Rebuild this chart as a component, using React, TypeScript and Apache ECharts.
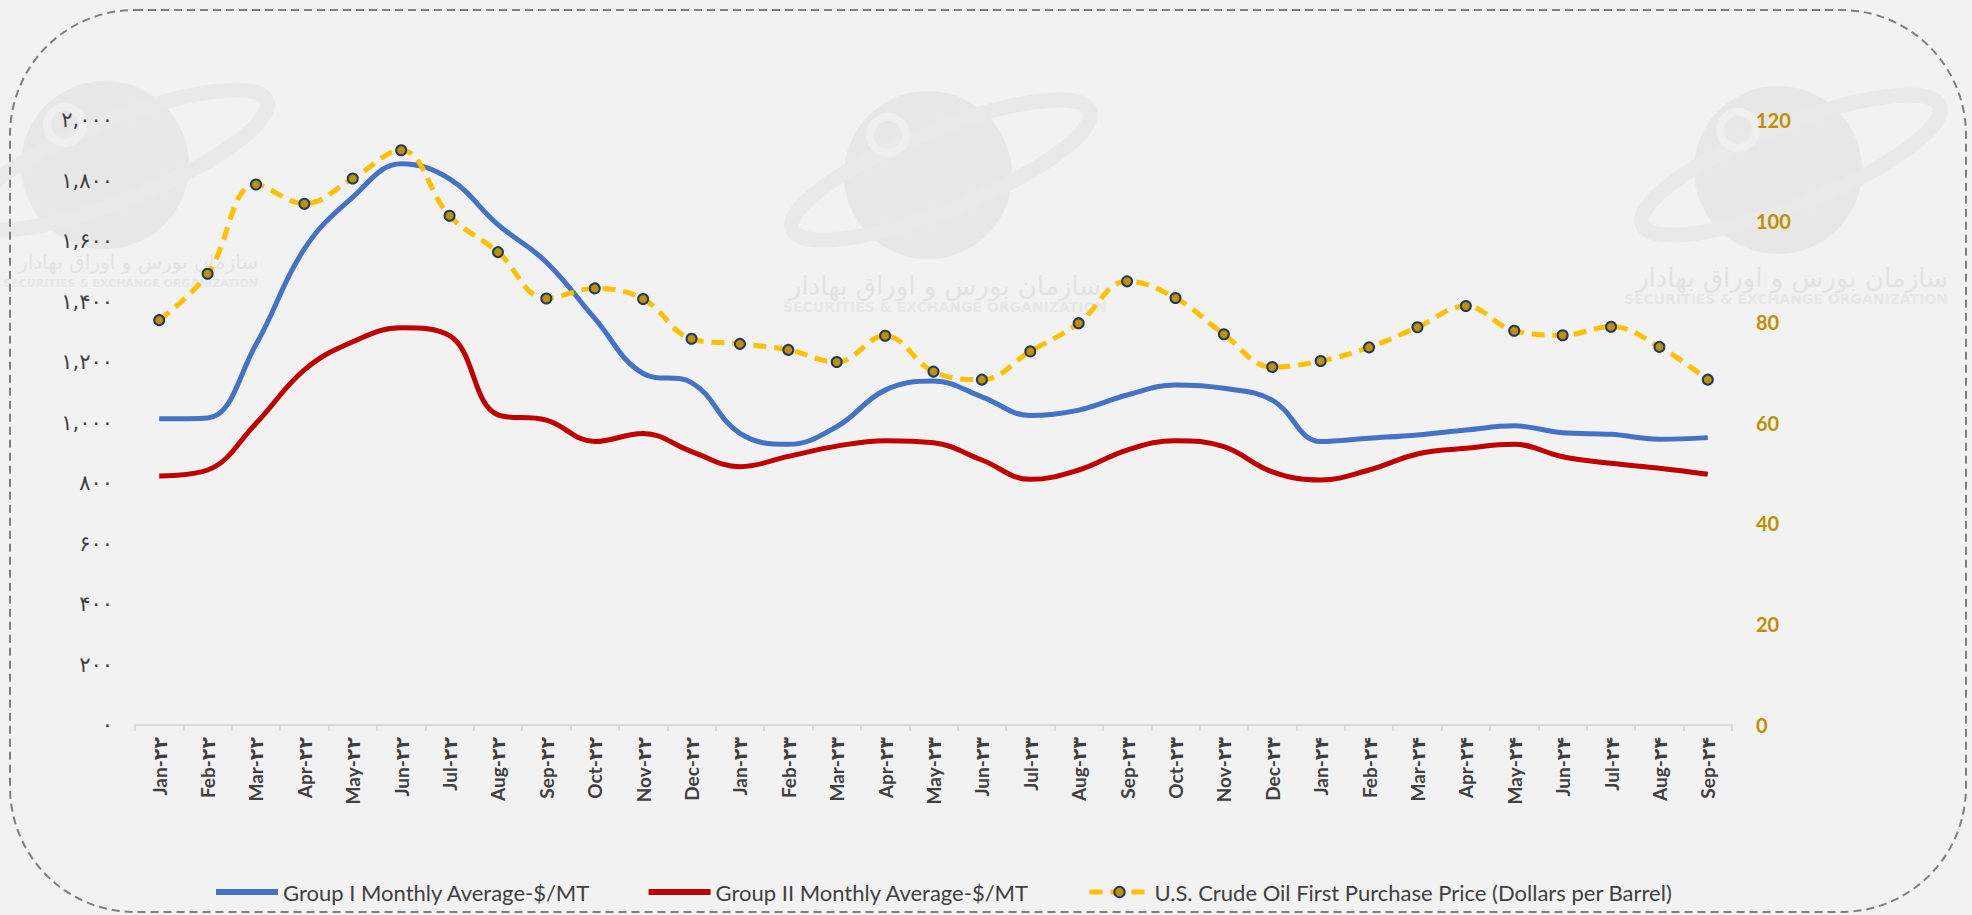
import React, { useEffect, useRef } from "react";
import * as echarts from "echarts";

const categories = [
  "Jan-۲۲", "Feb-۲۲", "Mar-۲۲", "Apr-۲۲", "May-۲۲", "Jun-۲۲", "Jul-۲۲", "Aug-۲۲", "Sep-۲۲", "Oct-۲۲", "Nov-۲۲", "Dec-۲۲",
  "Jan-۲۳", "Feb-۲۳", "Mar-۲۳", "Apr-۲۳", "May-۲۳", "Jun-۲۳", "Jul-۲۳", "Aug-۲۳", "Sep-۲۳", "Oct-۲۳", "Nov-۲۳", "Dec-۲۳",
  "Jan-۲۴", "Feb-۲۴", "Mar-۲۴", "Apr-۲۴", "May-۲۴", "Jun-۲۴", "Jul-۲۴", "Aug-۲۴", "Sep-۲۴",
];

const groupI = [
  1012, 1015, 1258, 1574, 1745, 1855, 1805, 1654, 1530, 1344, 1162, 1132,
  964, 928, 986, 1107, 1137, 1085, 1023, 1041, 1091, 1124, 1113, 1074,
  937, 948, 959, 975, 989, 966, 961, 945, 950,
];

const groupII = [
  823, 843, 997, 1174, 1267, 1313, 1287, 1025, 1008, 937, 964, 904,
  854, 888, 922, 940, 933, 876, 812, 843, 909, 940, 920, 837,
  810, 843, 896, 915, 928, 887, 865, 849, 829,
];

const crudeOil = [
  80.3, 89.5, 107.2, 103.4, 108.4, 114.0, 101.0, 93.8, 84.6, 86.6, 84.5, 76.6,
  75.6, 74.4, 72.0, 77.2, 70.1, 68.5, 74.1, 79.7, 88.0, 84.7, 77.5, 71.0,
  72.2, 74.9, 78.9, 83.1, 78.2, 77.3, 79.0, 75.0, 68.5,
];

const leftTickLabels = ["۰", "۲۰۰", "۴۰۰", "۶۰۰", "۸۰۰", "۱,۰۰۰", "۱,۲۰۰", "۱,۴۰۰", "۱,۶۰۰", "۱,۸۰۰", "۲,۰۰۰"];

const seriesNames = [
  "Group I Monthly Average-$/MT",
  "Group II Monthly Average-$/MT",
  "U.S. Crude Oil First Purchase Price (Dollars per Barrel)",
];

const watermarkFa = "سازمان بورس و اوراق بهادار";
const watermarkEn = "SECURITIES & EXCHANGE ORGANIZATION";

const FONT = "Lato, 'DejaVu Sans', sans-serif";

function logo(cx: number, cy: number, tx: number, ty: number, align: string, faSize: number, enSize: number) {
  return [
    { type: "circle", z: -10, silent: true, shape: { cx, cy, r: 84 }, style: { fill: "#e7e7e7" } },
    {
      type: "ellipse", z: -9, silent: true, x: cx + 13, y: cy - 5, rotation: 0.38,
      shape: { cx: 0, cy: 0, rx: 160, ry: 40 },
      style: { fill: "none", stroke: "#e9e9e9", lineWidth: 15 },
    },
    {
      type: "circle", z: -9, silent: true, shape: { cx: cx - 40, cy: cy - 40, r: 18 },
      style: { fill: "none", stroke: "#efefef", lineWidth: 8 },
    },
    {
      type: "text", z: -9, silent: true, x: tx, y: ty,
      style: { text: watermarkFa, fill: "#e2e2e2", font: `${faSize}px 'DejaVu Sans'`, align, verticalAlign: "middle" },
    },
    {
      type: "text", z: -9, silent: true, x: tx, y: ty + 21,
      style: { text: watermarkEn, fill: "#e6e6e6", font: `bold ${enSize}px 'DejaVu Sans'`, align, verticalAlign: "middle" },
    },
  ];
}

export default function App() {
  const ref = useRef<HTMLDivElement>(null);
  useEffect(() => {
    if (!ref.current) return;
    const chart = echarts.init(ref.current, undefined, { renderer: "svg" });
    const legendText = { fontFamily: FONT, fontSize: 22, color: "#404040" };
    chart.setOption({
      animation: false,
      backgroundColor: "#f2f2f2",
      graphic: [
        ...logo(105, 165, 258, 262, "right", 20, 11),
        ...logo(928, 175, 945, 286, "center", 26, 14),
        ...logo(1778, 170, 1948, 278, "right", 26, 14),
        {
          type: "rect", z: 100, silent: true,
          shape: { x: 10, y: 10, width: 1956, height: 902, r: 125 },
          style: { fill: "none", stroke: "#7f7f7f", lineWidth: 2, lineDash: [8, 5] },
        },
      ],
      grid: { left: 135, right: 240, top: 120, bottom: 190, containLabel: false },
      legend: [
        {
          left: 211,
          top: 876,
          itemWidth: 62,
          itemHeight: 6,
          itemGap: 58,
          icon: "rect",
          textStyle: legendText,
          data: [seriesNames[0], seriesNames[1]],
        },
        {
          left: 1082,
          top: 876,
          itemWidth: 60,
          itemHeight: 13,
          textStyle: legendText,
          lineStyle: { width: 5 },
          data: [seriesNames[2]],
        },
      ],
      xAxis: {
        type: "category",
        data: categories,
        boundaryGap: true,
        axisLine: { lineStyle: { color: "#d9d9d9", width: 2 } },
        axisTick: { show: true, length: 6, lineStyle: { color: "#d9d9d9", width: 2 } },
        axisLabel: {
          rotate: 90,
          interval: 0,
          margin: 12,
          fontFamily: FONT,
          fontWeight: "bold",
          fontSize: 19,
          color: "#404040",
        },
      },
      yAxis: [
        {
          type: "value",
          min: 0,
          max: 2000,
          interval: 200,
          axisLine: { show: false },
          axisTick: { show: false },
          splitLine: { show: false },
          axisLabel: {
            margin: 22,
            fontFamily: "'DejaVu Sans', sans-serif",
            fontSize: 21,
            color: "#404040",
            formatter: (v: number) => leftTickLabels[Math.round(v / 200)],
          },
        },
        {
          type: "value",
          min: 0,
          max: 120,
          interval: 20,
          position: "right",
          axisLine: { show: false },
          axisTick: { show: false },
          splitLine: { show: false },
          axisLabel: {
            margin: 24,
            fontFamily: FONT,
            fontWeight: "bold",
            fontSize: 20,
            color: "#bf9000",
          },
        },
      ],
      series: [
        {
          name: seriesNames[0],
          type: "line",
          data: groupI,
          yAxisIndex: 0,
          smooth: 0.4,
          symbol: "none",
          lineStyle: { color: "#4472c4", width: 5 },
          itemStyle: { color: "#4472c4" },
          z: 3,
        },
        {
          name: seriesNames[1],
          type: "line",
          data: groupII,
          yAxisIndex: 0,
          smooth: 0.4,
          symbol: "none",
          lineStyle: { color: "#c00000", width: 5 },
          itemStyle: { color: "#c00000" },
          z: 3,
        },
        {
          name: seriesNames[2],
          type: "line",
          data: crudeOil,
          yAxisIndex: 1,
          smooth: 0.4,
          symbol: "circle",
          symbolSize: 10,
          lineStyle: { color: "#ffc000", width: 5, type: [13, 8] },
          itemStyle: { color: "#bf9000", borderColor: "#1f3864", borderWidth: 2 },
          z: 4,
        },
      ],
    });
    return () => chart.dispose();
  }, []);
  return (
    <div
      ref={ref}
      style={{ position: "fixed", left: 0, top: 0, width: 1972, height: 915, background: "#f2f2f2" }}
    />
  );
}
